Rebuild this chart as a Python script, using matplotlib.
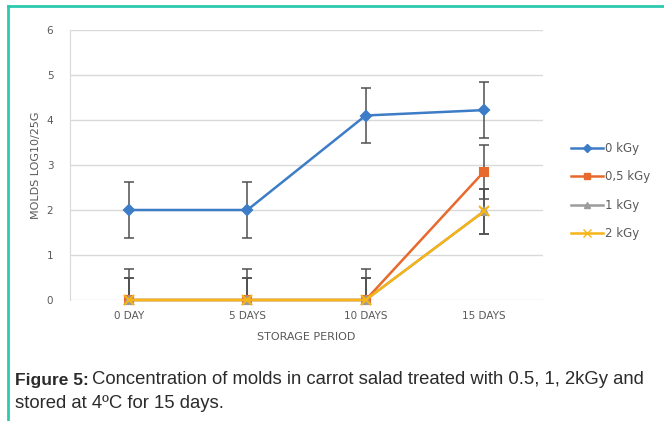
import matplotlib.pyplot as plt
from matplotlib.lines import Line2D

days = ['0 DAY', '5 DAYS', '10 DAYS', '15 DAYS']
labels = ['0 kGy', '0,5 kGy', '1 kGy', '2 kGy']
kgy0 = [2.0, 2.0, 4.1, 4.22]
kgy05 = [0, 0, 0, 2.85]
kgy1 = [0, 0, 0, 1.97]
kgy2 = [0, 0, 0, 1.97]
err0 = [0.62, 0.62, 0.62, 0.62]
err05 = [0.7, 0.7, 0.7, 0.6]
err1 = [0.5, 0.5, 0.5, 0.5]
err2 = [0.5, 0.5, 0.5, 0.5]

colors = ['#3d7cc6', '#e8692c', '#9c9c9c', '#f6b417']
markers = ['D', 's', '^', 'x']
msizes = [5, 6, 6, 7]

fig = plt.figure(figsize=(6.64, 4.21), dpi=100)
ax = fig.add_axes([70/664, 1 - 300/421, (543-70)/664, 270/421])

x = range(len(days))
series = [kgy0, kgy05, kgy1, kgy2]
errs = [err0, err05, err1, err2]
for ys, c, m, ms, lab in zip(series, colors, markers, msizes, labels):
    ax.plot(x, ys, color=c, lw=1.8, marker=m, ms=ms, mec=c, mfc=c,
            mew=1.5, label=lab, zorder=3, clip_on=False)
for ys, e in zip(series, errs):
    ax.errorbar(x, ys, yerr=e, fmt='none', ecolor='#505050', elinewidth=1.1,
                capsize=3.5, capthick=1.1, zorder=2)

ax.set_xlim(-0.5, 3.5)
ax.set_ylim(0, 6)
ax.set_yticks(range(7))
ax.set_xticks(list(x))
ax.set_xticklabels(days)
ax.grid(axis='y', color='#d9d9d9', lw=1)
ax.set_axisbelow(True)
for s in ['top', 'right', 'bottom']:
    ax.spines[s].set_visible(False)
ax.spines['left'].set_color('#d9d9d9')
ax.tick_params(length=0, colors='#595959', labelsize=7.5)
ax.tick_params(axis='x', pad=8)
ax.tick_params(axis='y', pad=12)
ax.set_xlabel('STORAGE PERIOD', color='#595959', fontsize=8, labelpad=8)
ax.set_ylabel('MOLDS LOG10/25G', color='#595959', fontsize=8, labelpad=4)

handles = [Line2D([], [], color=c, marker=m, ms=ms - 1, lw=1.8, mec=c, mfc=c)
           for c, m, ms in zip(colors, markers, msizes)]
fig.legend(handles, labels, loc='center left', bbox_to_anchor=(560/664, 1 - 191/421),
           frameon=False, fontsize=8.5, labelcolor='#595959', handlelength=2.7,
           handletextpad=0.2, labelspacing=1.3)

# frame lines of the page
fig.add_artist(Line2D([8/664, 1], [1 - 6/421, 1 - 6/421], color='#2dc9b0', lw=2))
fig.add_artist(Line2D([8/664, 8/664], [0, 1 - 6/421], color='#2dc9b0', lw=2))

fig.text(15/664, 1 - 380/421, 'Figure 5:', fontsize=12.5, fontweight='bold',
         family='Liberation Sans', color='#2b2b2b', va='center')
fig.text(92/664, 1 - 380/421,
         'Concentration of molds in carrot salad treated with 0.5, 1, 2kGy and',
         fontsize=13.3, family='Liberation Sans', color='#2b2b2b', va='center')
fig.text(15/664, 1 - 404/421, 'stored at 4ºC for 15 days.', fontsize=13.3,
         family='Liberation Sans', color='#2b2b2b', va='center')

fig.savefig('out.png', dpi=100)
